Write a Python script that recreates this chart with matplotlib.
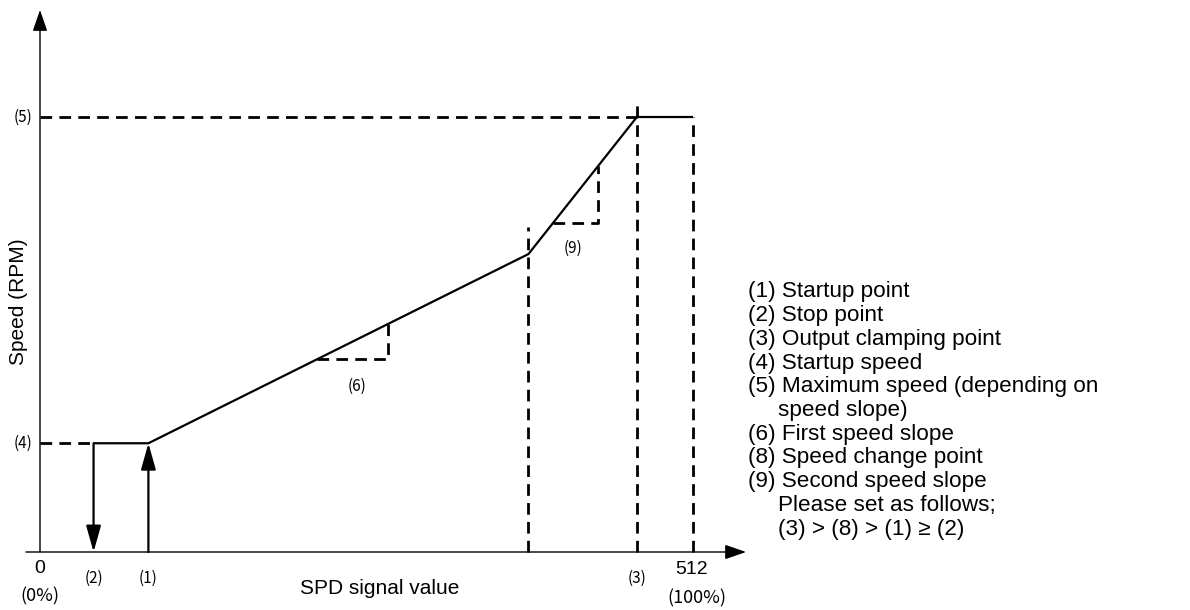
import numpy as np
import matplotlib
matplotlib.use("Agg")
import matplotlib.pyplot as plt

# ---- data (signal value 0..512, speed in % of max speed) ----
stop_x = 42          # (2) stop point
start_x = 85         # (1) startup point
change_x = 383       # (8) speed change point
clamp_x = 468        # (3) output clamping point
max_x = 512          # full scale
start_speed = 25     # (4) startup speed
change_speed = 68.5  # speed at change point
max_speed = 100      # (5) maximum speed

curve_x = [stop_x, start_x, change_x, clamp_x, max_x]
curve_y = [start_speed, start_speed, change_speed, max_speed, max_speed]

slope1_x = [217, 273]   # (6) slope triangle horizontal extent
slope2_x = [402, 437.5] # (9) slope triangle horizontal extent

legend_lines = [
    ("(1) Startup point", False),
    ("(2) Stop point", False),
    ("(3) Output clamping point", False),
    ("(4) Startup speed", False),
    ("(5) Maximum speed (depending on", False),
    ("speed slope)", True),
    ("(6) First speed slope", False),
    ("(8) Speed change point", False),
    ("(9) Second speed slope", False),
    ("Please set as follows;", True),
    ("(3) > (8) > (1) \u2265 (2)", True),
]

W, H = 1190, 610
fig = plt.figure(figsize=(W / 100, H / 100), dpi=100)
ax = fig.add_axes([0, 0, 1, 1])
ax.set_axis_off()

# pixel mapping: x=0 -> px 40, x=512 -> px 693 ; y=0 -> px 552, y=100 -> px 117
sx = 653 / 512
sy = 4.35
ax.set_xlim(-40 / sx, (W - 40) / sx)
ax.set_ylim((552 - H) / sy, 552 / sy)

sans = ["Liberation Sans", "DejaVu Sans"]
jp = ["Noto Sans CJK JP", "DejaVu Sans"]

# axes with arrows
ax.annotate("", xy=(553.6, 0), xytext=(-11, 0),
            arrowprops=dict(arrowstyle="-|>,head_length=1.3,head_width=0.45",
                            mutation_scale=10, color="black", lw=1.0,
                            shrinkA=0, shrinkB=0))
ax.annotate("", xy=(0, 124.6), xytext=(0, 0),
            arrowprops=dict(arrowstyle="-|>,head_length=1.3,head_width=0.45",
                            mutation_scale=10, color="black", lw=1.0,
                            shrinkA=0, shrinkB=0))

dash_kw = dict(color="black", lw=2.0, dashes=(4.2, 2.6))
solid_kw = dict(color="black", lw=1.6, solid_capstyle="butt")

# solid curve
ax.plot(curve_x, curve_y, **solid_kw)

# dashed guides
ax.plot([0, stop_x], [start_speed, start_speed], **dash_kw)
ax.plot([0, clamp_x], [max_speed, max_speed], **dash_kw)
ax.plot([change_x, change_x], [0, 74.7], **dash_kw)
ax.plot([clamp_x, clamp_x], [0, 103.2], **dash_kw)
ax.plot([max_x, max_x], [0, max_speed], **dash_kw)

# slope triangles
line_x = [start_x, change_x, clamp_x]
line_y = [start_speed, change_speed, max_speed]
for sxs in (slope1_x, slope2_x):
    y0 = np.interp(sxs[0], line_x, line_y)
    y1 = np.interp(sxs[1], line_x, line_y)
    ax.plot([sxs[0], sxs[1], sxs[1]], [y0, y0, y1], **dash_kw)

# vertical arrows for (1) and (2)
ax.annotate("", xy=(start_x, start_speed), xytext=(start_x, 0),
            arrowprops=dict(arrowstyle="-|>,head_length=1.6,head_width=0.45",
                            mutation_scale=10, color="black", lw=1.6,
                            shrinkA=0, shrinkB=0))
ax.annotate("", xy=(stop_x, 0), xytext=(stop_x, start_speed),
            arrowprops=dict(arrowstyle="-|>,head_length=1.6,head_width=0.45",
                            mutation_scale=10, color="black", lw=1.6,
                            shrinkA=0, shrinkB=0))

# small labels
small = 11
ax.text(-6.3, max_speed, "(5)", ha="right", va="center", fontsize=small, family=jp)
ax.text(-6.3, start_speed, "(4)", ha="right", va="center", fontsize=small, family=jp)
ax.text(stop_x, -6.0, "(2)", ha="center", va="center", fontsize=small, family=jp)
ax.text(start_x, -6.0, "(1)", ha="center", va="center", fontsize=small, family=jp)
ax.text(clamp_x, -6.0, "(3)", ha="center", va="center", fontsize=small, family=jp)
ax.text(248.5, 38.2, "(6)", ha="center", va="center", fontsize=small, family=jp)
ax.text(418, 69.9, "(9)", ha="center", va="center", fontsize=small, family=jp)

ax.text(0, -3.8, "0", ha="center", va="center", fontsize=14, family=sans)
ax.text(0, -10.1, "(0%)", ha="center", va="center", fontsize=13, family=jp)
ax.text(511, -4.1, "512", ha="center", va="center", fontsize=14, family=sans)
ax.text(515, -10.6, "(100%)", ha="center", va="center", fontsize=13, family=jp)

ax.text(266.6, -8.3, "SPD signal value", ha="center", va="center", fontsize=15, family=sans)
ax.text(-17.2, 57.5, "Speed (RPM)", ha="center", va="center", rotation=90,
        fontsize=15, family=sans)

# legend text block
for i, (txt, indent) in enumerate(legend_lines):
    px = 778 if indent else 748
    py = 292 + i * 23.7
    fig.text(px / W, 1 - py / H, txt, ha="left", va="center", fontsize=16.2, family=sans)

fig.savefig("out.png", dpi=100)
